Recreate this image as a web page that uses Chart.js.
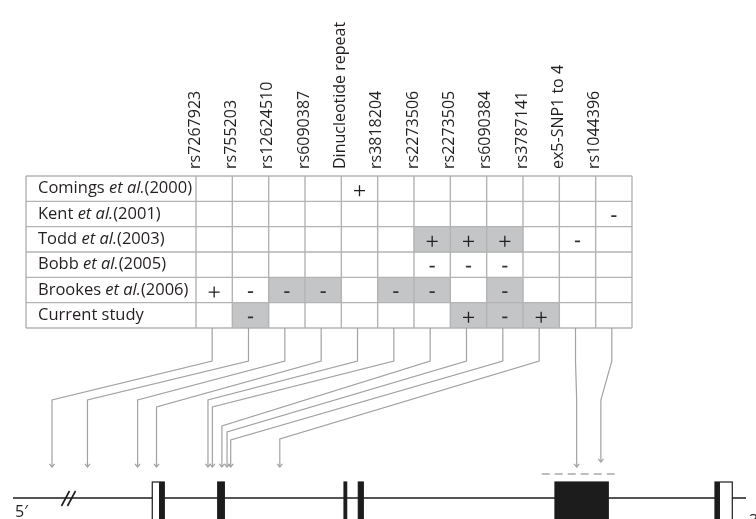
<!DOCTYPE html>
<html>
<head>
<meta charset="utf-8">
<script src="https://cdn.jsdelivr.net/npm/chart.js@4.4.1/dist/chart.umd.min.js"></script>
<style>
  html, body { margin: 0; padding: 0; background: #ffffff; }
  #wrap { width: 756px; height: 519px; position: relative; overflow: hidden; }
</style>
</head>
<body>
<div id="wrap"><canvas id="chart" width="756" height="519"></canvas></div>
<script>
// ---- markers typed in each association study (table columns) ----
const markers = ['rs7267923', 'rs755203', 'rs12624510', 'rs6090387', 'Dinucleotide repeat',
  'rs3818204', 'rs2273506', 'rs2273505', 'rs6090384', 'rs3787141', 'ex5-SNP1 to 4', 'rs1044396'];

// ---- studies (table rows) ----
const studyAuthors = ['Comings', 'Kent', 'Todd', 'Bobb', 'Brookes', 'Current study'];
const studyYears = ['2000', '2001', '2003', '2005', '2006', ''];

// ---- reported result per marker: '+' associated, '-' not associated, '' not typed ----
const resultComings = ['', '', '', '', '+', '', '', '', '', '', '', ''];
const resultKent    = ['', '', '', '', '', '', '', '', '', '', '', '-'];
const resultTodd    = ['', '', '', '', '', '', '+', '+', '+', '', '-', ''];
const resultBobb    = ['', '', '', '', '', '', '-', '-', '-', '', '', ''];
const resultBrookes = ['+', '-', '-', '-', '', '-', '-', '', '-', '', '', ''];
const resultCurrent = ['', '-', '', '', '', '', '', '+', '-', '+', '', ''];

// ---- markers falling in the shaded haplotype block per study (1 = shaded) ----
const blockComings = [0, 0, 0, 0, 0, 0, 0, 0, 0, 0, 0, 0];
const blockKent    = [0, 0, 0, 0, 0, 0, 0, 0, 0, 0, 0, 0];
const blockTodd    = [0, 0, 0, 0, 0, 0, 1, 1, 1, 0, 0, 0];
const blockBobb    = [0, 0, 0, 0, 0, 0, 0, 0, 0, 0, 0, 0];
const blockBrookes = [0, 0, 1, 1, 0, 1, 1, 0, 1, 0, 0, 0];
const blockCurrent = [0, 1, 0, 0, 0, 0, 0, 1, 1, 1, 0, 0];

// ---- gene model, relative position along the drawn locus (0 = 5' end, 100 = 3' end) ----
const exonStart = [19.00, 27.93, 45.16, 47.11, 73.94, 95.77];
const exonEnd   = [20.64, 28.83, 45.52, 47.79, 81.21, 98.13];
const cdsStart  = [19.92, 27.93, 45.16, 47.11, 73.94, 95.77];
const cdsEnd    = [20.64, 28.83, 45.52, 47.79, 81.21, 96.45];
// marker positions on the locus, same order as the table columns
const markerPos = [5.32, 10.16, 17.00, 19.58, 26.60, 27.20, 28.50, 29.20, 29.70, 36.40, 76.90, 80.20];
// region covered by the ex5 SNP set, and the break in the 5' flank
const ex5Region = [72.13, 82.36];
const flankBreak = 7.57;

const results = [resultComings, resultKent, resultTodd, resultBobb, resultBrookes, resultCurrent];
const blocks = [blockComings, blockKent, blockTodd, blockBobb, blockBrookes, blockCurrent];

// ---- layout & style ----
const W = 756, H = 519;
const PAD = { left: 196, right: 124, top: 0, bottom: 191 };
const HEADER_H = 176;
const TABLE_LEFT = 26;
const LABEL_X = 38;
const LOCUS_PX = [13, 746];
const FONT = "'Open Sans', 'DejaVu Sans', sans-serif";
const TEXT = '#231f20';
const GRID = '#b3b3b3';
const SHADE = '#c4c5c7';
const LEAD = '#a2a2a2';
const INK = '#1c1c1c';
// leader geometry: depths below the table (px)
const LEAD_ELBOW = 33;
const LEAD_BEND = [72, 72, 72, 79, 72, 79, 98, 104, 112, 111, 72, 72];
const LEAD_TIP  = [139, 139, 139, 139, 139, 139, 139, 139, 139, 139, 139, 134];
const DASH_Y = 146, LOCUS_Y = 170, EXON_TOP = 154;

const areaL = PAD.left, areaR = W - PAD.right;
const locusSpan = LOCUS_PX[1] - LOCUS_PX[0];
const geneMin = (areaL - LOCUS_PX[0]) / locusSpan * 100;
const geneMax = (areaR - LOCUS_PX[0]) / locusSpan * 100;

// shaded cells: one floating-bar dataset per study row
const shadeSets = blocks.map((row, r) => ({
  type: 'bar',
  label: studyAuthors[r] + ' block',
  data: row.map(v => (v ? [r, r + 1] : null)),
  backgroundColor: SHADE,
  borderWidth: 0,
  grouped: false,
  barPercentage: 1,
  categoryPercentage: 1,
  xAxisID: 'x',
  yAxisID: 'y',
  order: 2
}));

function signPoints(sign) {
  const pts = [];
  results.forEach((row, r) => row.forEach((v, i) => {
    if (v === sign) pts.push({ x: markers[i], y: r + 0.58 });
  }));
  return pts;
}

const plusSet = {
  type: 'scatter', label: 'associated', data: signPoints('+'),
  pointStyle: 'cross', pointRadius: 5.5, pointHoverRadius: 5.5,
  borderColor: TEXT, backgroundColor: TEXT, borderWidth: 1.3,
  xAxisID: 'x', yAxisID: 'y', order: 1
};
const minusSet = {
  type: 'scatter', label: 'not associated', data: signPoints('-'),
  pointStyle: 'line', pointRadius: 2.6, pointHoverRadius: 2.6,
  borderColor: '#333333', backgroundColor: '#333333', borderWidth: 1.8,
  xAxisID: 'x', yAxisID: 'y', order: 1
};

function line(ctx, x1, y1, x2, y2) {
  ctx.beginPath(); ctx.moveTo(x1, y1); ctx.lineTo(x2, y2); ctx.stroke();
}

// table grid and study labels
const tablePlugin = {
  id: 'studyTable',
  afterDatasetsDraw(chart) {
    const { ctx, chartArea, scales: { x, y } } = chart;
    const half = (x.getPixelForValue(1) - x.getPixelForValue(0)) / 2;
    ctx.save();
    ctx.strokeStyle = GRID;
    ctx.lineWidth = 1.4;
    for (let r = 0; r <= studyAuthors.length; r++) {
      const py = y.getPixelForValue(r);
      line(ctx, TABLE_LEFT, py, chartArea.right, py);
    }
    line(ctx, TABLE_LEFT, y.getPixelForValue(0), TABLE_LEFT, y.getPixelForValue(studyAuthors.length));
    for (let i = 0; i <= markers.length; i++) {
      const px = x.getPixelForValue(i) - half;
      line(ctx, px, y.getPixelForValue(0), px, y.getPixelForValue(studyAuthors.length));
    }
    ctx.fillStyle = TEXT;
    ctx.textBaseline = 'middle';
    ctx.textAlign = 'left';
    studyAuthors.forEach((name, r) => {
      const py = y.getPixelForValue(r + 0.5);
      let px = LABEL_X;
      const parts = studyYears[r]
        ? [[name + ' ', false], ['et al.', true], ['(' + studyYears[r] + ')', false]]
        : [[name, false]];
      parts.forEach(([t, it]) => {
        ctx.font = (it ? 'italic ' : '') + '16.5px ' + FONT;
        ctx.fillText(t, px, py);
        px += ctx.measureText(t).width;
      });
    });
    ctx.restore();
  }
};

// leader lines from the table down to the gene model, and the gene model itself
const genePlugin = {
  id: 'geneModel',
  afterDraw(chart) {
    const { ctx, chartArea, scales: { x, xGene } } = chart;
    const base = chartArea.bottom;
    ctx.save();
    // leaders
    ctx.strokeStyle = LEAD;
    ctx.lineWidth = 1.2;
    markers.forEach((m, i) => {
      const x0 = x.getPixelForValue(i) - 2;
      const xt = xGene.getPixelForValue(markerPos[i]);
      const yE = base + LEAD_ELBOW, yB = base + LEAD_BEND[i], yT = base + LEAD_TIP[i];
      ctx.beginPath();
      ctx.moveTo(x0, base);
      ctx.lineTo(x0, yE);
      ctx.lineTo(xt, yB);
      ctx.lineTo(xt, yT);
      ctx.stroke();
      ctx.beginPath();
      ctx.moveTo(xt - 2.6, yT - 3.2);
      ctx.lineTo(xt, yT);
      ctx.lineTo(xt + 2.6, yT - 3.2);
      ctx.stroke();
    });
    // ex5 SNP span
    ctx.setLineDash([8, 5]);
    ctx.lineWidth = 1.6;
    ctx.strokeStyle = '#a9a9a9';
    line(ctx, xGene.getPixelForValue(ex5Region[0]), base + DASH_Y, xGene.getPixelForValue(ex5Region[1]), base + DASH_Y);
    ctx.setLineDash([]);
    // locus backbone
    const ly = base + LOCUS_Y;
    ctx.strokeStyle = INK;
    ctx.lineWidth = 1.3;
    line(ctx, xGene.getPixelForValue(0), ly, xGene.getPixelForValue(100), ly);
    // break marks
    const bx = xGene.getPixelForValue(flankBreak);
    ctx.lineWidth = 1.6;
    [-3, 3].forEach(d => line(ctx, bx + d - 4, ly + 8, bx + d + 4, ly - 7));
    // exons
    const top = base + EXON_TOP, bottom = H + 10;
    exonStart.forEach((s, k) => {
      const x1 = xGene.getPixelForValue(s), x2 = xGene.getPixelForValue(exonEnd[k]);
      ctx.fillStyle = '#ffffff';
      ctx.fillRect(x1, top, x2 - x1, bottom - top);
      ctx.strokeStyle = INK;
      ctx.lineWidth = 1.2;
      ctx.strokeRect(x1, top, x2 - x1, bottom - top);
      const c1 = xGene.getPixelForValue(cdsStart[k]), c2 = xGene.getPixelForValue(cdsEnd[k]);
      ctx.fillStyle = INK;
      ctx.fillRect(c1, top, c2 - c1, bottom - top);
    });
    // strand ends
    ctx.fillStyle = TEXT;
    ctx.font = '16px ' + FONT;
    ctx.textAlign = 'left';
    ctx.textBaseline = 'alphabetic';
    ctx.fillText("5\u2032", 15, H - 2);
    ctx.fillText("3\u2032", 749, H + 7);
    ctx.restore();
  }
};

new Chart(document.getElementById('chart'), {
  type: 'bar',
  data: { labels: markers, datasets: [...shadeSets, plusSet, minusSet] },
  options: {
    responsive: false,
    devicePixelRatio: 1,
    animation: false,
    events: [],
    layout: { padding: PAD },
    plugins: { legend: { display: false }, tooltip: { enabled: false } },
    scales: {
      x: {
        type: 'category',
        position: 'top',
        offset: true,
        grid: { display: false, drawTicks: false },
        border: { display: false },
        ticks: {
          autoSkip: false, minRotation: 90, maxRotation: 90,
          padding: 7, color: TEXT, font: { family: FONT, size: 16 }
        },
        afterFit(scale) { scale.height = HEADER_H; }
      },
      y: { type: 'linear', min: 0, max: studyAuthors.length, reverse: true, display: false },
      xGene: { type: 'linear', axis: 'x', offset: false, min: geneMin, max: geneMax, display: false }
    }
  },
  plugins: [tablePlugin, genePlugin]
});
</script>
</body>
</html>
